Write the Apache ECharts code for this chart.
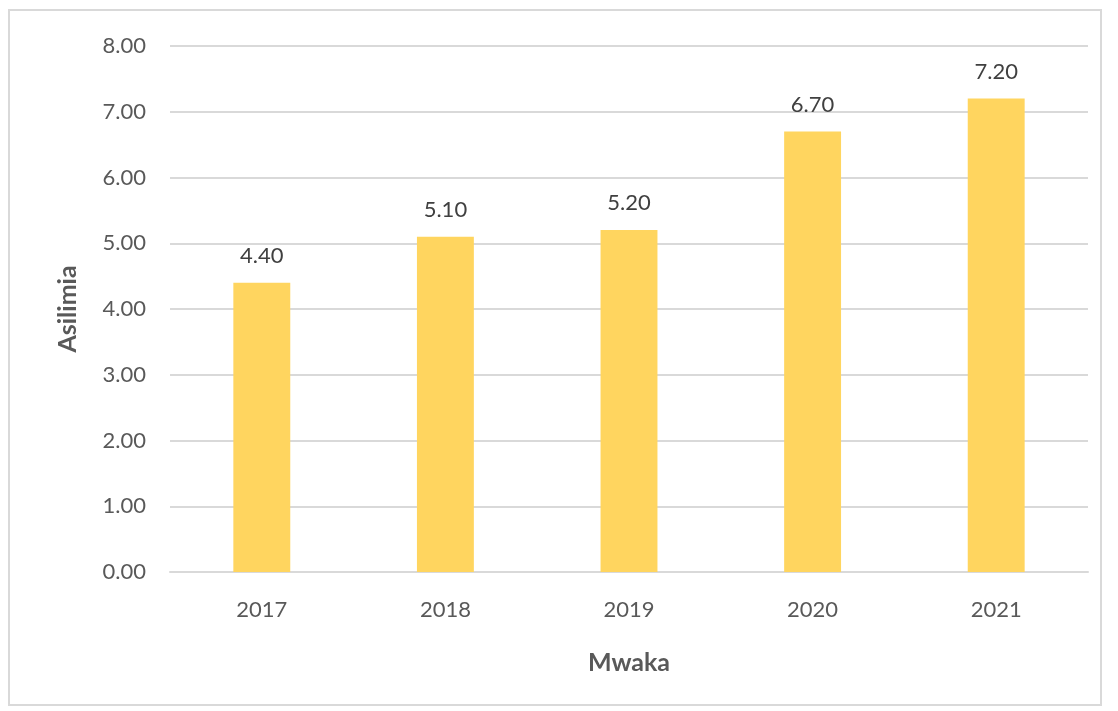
<!DOCTYPE html>
<html><head><meta charset="utf-8">
<script src="https://cdn.jsdelivr.net/npm/echarts@6/dist/echarts.min.js"></script>
<style>
html,body{margin:0;padding:0;background:#fff;}
#frame{position:absolute;left:8px;top:9px;width:1094px;height:697px;border:2px solid #d9d9d9;box-sizing:border-box;}
#c{position:absolute;left:0;top:0;width:1118px;height:711px;}
</style></head>
<body>
<div id="frame"></div>
<div id="c"></div>
<script>
const categories = ['2017','2018','2019','2020','2021'];
const values = [4.40, 5.10, 5.20, 6.70, 7.20];
const yTicks = {min:0, max:8, interval:1};

const chart = echarts.init(document.getElementById('c'));
const font = 'Lato, "Open Sans", sans-serif';
chart.setOption({
  animation:false,
  grid:{left:170, right:30, top:46, bottom:139},
  xAxis:{
    type:'category', data:categories,
    name:'Mwaka', nameLocation:'middle', nameGap:78,
    nameTextStyle:{fontFamily:font, fontWeight:'bold', fontSize:25, color:'#595959'},
    axisLine:{lineStyle:{color:'#d9d9d9', width:2}},
    axisTick:{show:false},
    axisLabel:{fontFamily:font, fontSize:22, color:'#595959', margin:27}
  },
  yAxis:{
    type:'value', min:yTicks.min, max:yTicks.max, interval:yTicks.interval,
    name:'Asilimia', nameLocation:'middle', nameGap:90,
    nameTextStyle:{fontFamily:font, fontWeight:'bold', fontSize:25, color:'#595959'},
    axisLine:{show:false}, axisTick:{show:false},
    splitLine:{lineStyle:{color:'#d9d9d9', width:2}},
    axisLabel:{fontFamily:font, fontSize:22, color:'#595959', margin:24,
      formatter:v=>v.toFixed(2)}
  },
  series:[{
    type:'bar', data:values, barWidth:'31%',
    itemStyle:{color:'#FFD55F'},
    label:{show:true, position:'top', distance:16, fontFamily:font, fontSize:22, color:'#404040',
      formatter:p=>p.value.toFixed(2)}
  }]
});
</script>
</body></html>
